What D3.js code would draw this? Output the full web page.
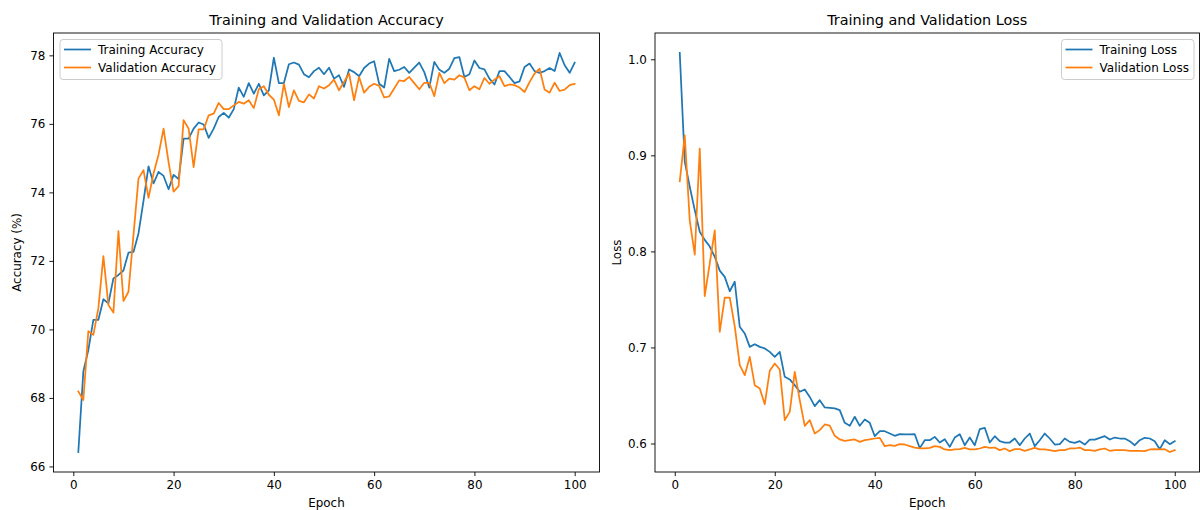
<html>
  <head>
    <style>
      body { margin: 0; background: #fff; }
      text { font-family: "DejaVu Sans", sans-serif; fill: #000; }
      .line { fill: none; stroke-width: 1.75; stroke-linejoin: round; stroke-linecap: square; }
      .tick line { stroke: #000; stroke-width: 0.9; }
      .tick text { font-size: 11.9px; }
      .domain { display: none; }
    </style>
    <script src="https://cdnjs.cloudflare.com/ajax/libs/d3/7.8.5/d3.min.js" type="text/javascript"></script>
  </head>
  <body>
    <script>
      // values, epochs 1..100
      var trainAcc = [66.42, 68.77, 69.40, 70.28, 70.28, 70.88, 70.76, 71.49, 71.59, 71.72,
        72.24, 72.26, 72.80, 73.75, 74.76, 74.26, 74.60, 74.48, 74.09, 74.51,
        74.39, 75.57, 75.57, 75.86, 76.04, 75.98, 75.59, 75.86, 76.20, 76.32,
        76.18, 76.43, 77.06, 76.79, 77.19, 76.88, 77.17, 76.83, 76.98, 77.93,
        77.19, 77.19, 77.74, 77.79, 77.73, 77.45, 77.36, 77.54, 77.64, 77.45,
        77.64, 77.32, 77.42, 77.08, 77.59, 77.51, 77.39, 77.63, 77.76, 77.83,
        77.17, 77.06, 77.90, 77.54, 77.58, 77.66, 77.49, 77.64, 77.79, 77.51,
        77.06, 77.81, 77.58, 77.49, 77.61, 77.92, 77.95, 77.37, 77.45, 77.85,
        77.63, 77.59, 77.32, 77.15, 77.54, 77.54, 77.37, 77.19, 77.24, 77.66,
        77.76, 77.54, 77.49, 77.54, 77.63, 77.54, 78.07, 77.71, 77.49, 77.79];
      var valAcc = [68.19, 67.94, 69.95, 69.84, 70.62, 72.14, 70.71, 70.49, 72.87, 70.83,
        71.10, 72.75, 74.40, 74.65, 73.84, 74.55, 75.10, 75.86, 74.88, 74.02,
        74.18, 76.11, 75.86, 74.74, 75.84, 75.84, 76.25, 76.30, 76.61, 76.43,
        76.43, 76.54, 76.64, 76.59, 76.69, 76.46, 77.01, 77.10, 76.85, 76.71,
        76.25, 77.17, 76.49, 76.98, 76.67, 76.63, 76.86, 76.74, 77.10, 77.03,
        77.13, 77.29, 76.98, 77.22, 77.47, 76.69, 77.37, 76.91, 77.08, 77.17,
        77.11, 76.77, 76.80, 77.03, 77.27, 77.25, 77.37, 77.19, 77.01, 77.20,
        77.20, 76.81, 77.49, 77.19, 77.32, 77.29, 77.42, 77.35, 76.98, 77.10,
        77.01, 77.34, 77.17, 77.29, 77.39, 77.10, 77.15, 77.13, 77.06, 76.93,
        77.22, 77.47, 77.61, 77.00, 76.91, 77.20, 76.96, 77.00, 77.13, 77.17];
      var trainLoss = [1.0066, 0.8935, 0.8673, 0.8430, 0.8204, 0.8120, 0.8050, 0.7944, 0.7800, 0.7735,
        0.7585, 0.7684, 0.7215, 0.7146, 0.7006, 0.7034, 0.7006, 0.6990, 0.6954, 0.6902,
        0.6954, 0.6694, 0.6667, 0.6607, 0.6538, 0.6563, 0.6485, 0.6389, 0.6451, 0.6375,
        0.6372, 0.6365, 0.6347, 0.6215, 0.6184, 0.6278, 0.6184, 0.6250, 0.6215, 0.6076,
        0.6128, 0.6128, 0.6104, 0.6080, 0.6097, 0.6094, 0.6094, 0.6097, 0.5952, 0.6034,
        0.6034, 0.6069, 0.6010, 0.6045, 0.5965, 0.6062, 0.6097, 0.5982, 0.6062, 0.5982,
        0.6149, 0.6163, 0.6010, 0.6076, 0.6024, 0.6010, 0.6010, 0.6052, 0.5982, 0.6052,
        0.6104, 0.5972, 0.6034, 0.6104, 0.6052, 0.5989, 0.5993, 0.6052, 0.6017, 0.6007,
        0.6024, 0.5989, 0.6041, 0.6041, 0.6059, 0.6076, 0.6041, 0.6062, 0.6052, 0.6052,
        0.6024, 0.5982, 0.6034, 0.6059, 0.6052, 0.6024, 0.5941, 0.6034, 0.5993, 0.6024];
      var valLoss = [0.8730, 0.9207, 0.8320, 0.7966, 0.9070, 0.7535, 0.7875, 0.8218, 0.7163, 0.7520,
        0.7520, 0.7220, 0.6816, 0.6711, 0.6902, 0.6607, 0.6573, 0.6409, 0.6757, 0.6833,
        0.6771, 0.6243, 0.6329, 0.6746, 0.6451, 0.6184, 0.6243, 0.6104, 0.6139, 0.6198,
        0.6187, 0.6080, 0.6042, 0.6028, 0.6035, 0.6042, 0.6017, 0.6035, 0.6042, 0.6052,
        0.6059, 0.5972, 0.5983, 0.5976, 0.5993, 0.5990, 0.5972, 0.5958, 0.5950, 0.5948,
        0.5955, 0.5972, 0.5965, 0.5938, 0.5931, 0.5938, 0.5941, 0.5955, 0.5938, 0.5938,
        0.5948, 0.5965, 0.5955, 0.5958, 0.5931, 0.5948, 0.5920, 0.5941, 0.5941, 0.5924,
        0.5938, 0.5955, 0.5938, 0.5938, 0.5931, 0.5920, 0.5931, 0.5931, 0.5948, 0.5948,
        0.5958, 0.5931, 0.5931, 0.5924, 0.5938, 0.5948, 0.5924, 0.5931, 0.5931, 0.5931,
        0.5924, 0.5924, 0.5924, 0.5920, 0.5938, 0.5941, 0.5938, 0.5941, 0.5911, 0.5931];

      var epochTicks = [0, 20, 40, 60, 80, 100];
      var accTicks = [66, 68, 70, 72, 74, 76, 78];
      var lossTicks = [0.6, 0.7, 0.8, 0.9, 1.0];

      var svg = d3.select("body").append("svg")
        .attr("width", 1200)
        .attr("height", 510);

      var plotTop = 33, plotBottom = 472;

      // one panel: box, axes, two lines, legend
      function panel(opt) {
        var g = svg.append("g");
        var n = opt.a.length;
        var x = d3.scaleLinear()
          .domain([1 - 0.05 * (n - 1), n + 0.05 * (n - 1)])
          .range([opt.left, opt.right]);
        var lo = d3.min(opt.a.concat(opt.b)), hi = d3.max(opt.a.concat(opt.b));
        var pad = (hi - lo) * 0.05;
        var y = d3.scaleLinear().domain([lo - pad, hi + pad]).range([plotBottom, plotTop]);

        g.append("g")
          .attr("transform", "translate(0," + plotBottom + ")")
          .call(d3.axisBottom(x).tickValues(epochTicks).tickSize(4.1).tickPadding(4).tickFormat(d3.format("d")));
        g.append("g")
          .attr("transform", "translate(" + opt.left + ",0)")
          .call(d3.axisLeft(y).tickValues(opt.ticks).tickSize(4.1).tickPadding(4).tickFormat(opt.fmt));

        var line = d3.line()
          .x(function(d, i) { return x(i + 1); })
          .y(function(d) { return y(d); });
        g.append("path").attr("class", "line").attr("stroke", "#1f77b4").attr("d", line(opt.a));
        g.append("path").attr("class", "line").attr("stroke", "#ff7f0e").attr("d", line(opt.b));

        g.append("rect")
          .attr("x", opt.left).attr("y", plotTop)
          .attr("width", opt.right - opt.left).attr("height", plotBottom - plotTop)
          .attr("fill", "none").attr("stroke", "#000").attr("stroke-width", 0.9);

        var mid = (opt.left + opt.right) / 2;
        g.append("text").attr("x", mid).attr("y", 25)
          .attr("text-anchor", "middle").style("font-size", "14.4px").text(opt.title);
        g.append("text").attr("x", mid).attr("y", 507)
          .attr("text-anchor", "middle").style("font-size", "11.9px").text("Epoch");
        g.append("text")
          .attr("transform", "translate(" + opt.ylabX + "," + ((plotTop + plotBottom) / 2) + ") rotate(-90)")
          .attr("text-anchor", "middle").style("font-size", "11.9px").text(opt.ylabel);

        // legend
        var lg = g.append("g").attr("transform", "translate(" + opt.legX + ",39.5)");
        lg.append("rect").attr("width", opt.legW).attr("height", 40).attr("rx", 3)
          .attr("fill", "#fff").attr("fill-opacity", 0.8)
          .attr("stroke", "#cccccc").attr("stroke-width", 1);
        [[opt.names[0], "#1f77b4"], [opt.names[1], "#ff7f0e"]].forEach(function(e, i) {
          var yy = 10 + i * 18;
          lg.append("line").attr("x1", 4).attr("x2", 31).attr("y1", yy).attr("y2", yy)
            .attr("stroke", e[1]).attr("stroke-width", 1.75);
          lg.append("text").attr("x", 38).attr("y", yy).attr("dy", "0.36em")
            .style("font-size", "12px").text(e[0]);
        });
      }

      panel({
        a: trainAcc, b: valAcc, left: 53.5, right: 599.5,
        ticks: accTicks, fmt: d3.format("d"),
        title: "Training and Validation Accuracy", ylabel: "Accuracy (%)", ylabX: 21,
        names: ["Training Accuracy", "Validation Accuracy"], legX: 60, legW: 162
      });
      panel({
        a: trainLoss, b: valLoss, left: 655, right: 1199.5,
        ticks: lossTicks, fmt: d3.format(".1f"),
        title: "Training and Validation Loss", ylabel: "Loss", ylabX: 621,
        names: ["Training Loss", "Validation Loss"], legX: 1061.5, legW: 132.5
      });
    </script>
  </body>
</html>
